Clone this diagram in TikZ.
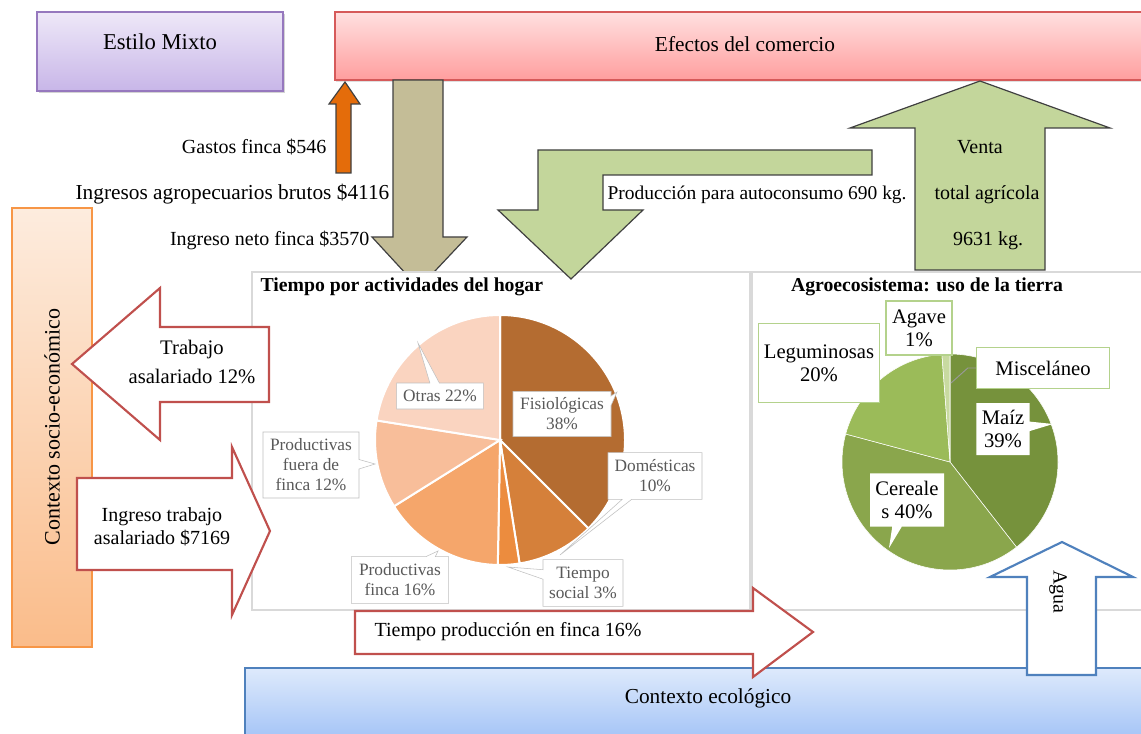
\documentclass[tikz,border=0pt]{standalone}
\usepackage{fontspec}
\setmainfont{Liberation Serif}
\definecolor{MixtoTop}{RGB}{238, 232, 248}
\definecolor{MixtoBottom}{RGB}{200, 182, 232}
\definecolor{MixtoLine}{RGB}{150, 120, 190}
\definecolor{ComercioTop}{RGB}{255, 224, 224}
\definecolor{ComercioBottom}{RGB}{255, 158, 158}
\definecolor{ComercioLine}{RGB}{214, 90, 90}
\definecolor{SocioTop}{RGB}{253, 236, 222}
\definecolor{SocioBottom}{RGB}{250, 188, 138}
\definecolor{SocioLine}{RGB}{247, 150, 70}
\definecolor{EcoTop}{RGB}{222, 234, 252}
\definecolor{EcoBottom}{RGB}{163, 195, 246}
\definecolor{EcoLine}{RGB}{79, 129, 189}
\definecolor{ArrowRed}{RGB}{192, 80, 77}
\definecolor{GastoOrange}{RGB}{228, 108, 10}
\definecolor{IngresoTan}{RGB}{196, 189, 151}
\definecolor{CosechaGreen}{RGB}{195, 214, 155}
\definecolor{ChartGray}{RGB}{217, 217, 217}
\definecolor{LabelGray}{RGB}{191, 191, 191}
\definecolor{TextGray}{RGB}{89, 89, 89}
\definecolor{Fisio}{RGB}{180, 108, 49}
\definecolor{Domes}{RGB}{213, 128, 58}
\definecolor{Social}{RGB}{236, 140, 62}
\definecolor{ProdFinca}{RGB}{245, 166, 107}
\definecolor{ProdFuera}{RGB}{248, 190, 154}
\definecolor{Otras}{RGB}{250, 212, 192}
\definecolor{Maiz}{RGB}{118, 146, 60}
\definecolor{Cereal}{RGB}{138, 166, 76}
\definecolor{Legum}{RGB}{155, 187, 89}
\definecolor{Agave}{RGB}{200, 218, 160}
\definecolor{LabelGreen}{RGB}{180, 210, 140}
\usetikzlibrary{
    shapes.callouts,
    shadows,
    positioning
    }
\tikzset{
    lbl/.style={font=\fontsize{15}{18}\selectfont, inner sep=1pt, align=center},
    pielbl/.style={rectangle callout, draw=LabelGray, fill=white, text=TextGray, font=\fontsize{13}{15}\selectfont, align=center, inner sep=1pt},
    agrolbl/.style={draw=LabelGreen, fill=white, line width=0.8pt, font=\fontsize{15.5}{17}\selectfont, align=center, inner sep=1pt},
    charttitle/.style={font=\bfseries\fontsize{14.8}{17}\selectfont, inner sep=1pt},
    chartbox/.style={draw=ChartGray, fill=white, line width=0.9pt},
    redarrow/.style={draw=ArrowRed, fill=white, line width=1.6pt, line join=miter},
    flowarrow/.style={draw=black!75, line width=0.9pt}
}

\begin{document}
\begin{tikzpicture}[x=0.75pt, y=-0.75pt]
    \useasboundingbox (0,0) rectangle (1141,734);
    \clip (0,0) rectangle (1141,734);

    %Estilo y comercio
    \draw[MixtoLine, line width=0.9pt, top color=MixtoTop, bottom color=MixtoBottom, drop shadow={opacity=0.35, shadow xshift=1.5pt, shadow yshift=-1.5pt}] (37,12) rectangle (283,91);
    \draw[ComercioLine, line width=0.9pt, top color=ComercioTop, bottom color=ComercioBottom, drop shadow={opacity=0.25, shadow xshift=1pt, shadow yshift=-1.5pt}] (335,12) rectangle (1150,80);
    \node (mixto) [lbl, font=\fontsize{17}{20}\selectfont] at (160,42) {Estilo Mixto};
    \node (comercio) [lbl, font=\fontsize{16}{19}\selectfont] at (745,44) {Efectos del comercio};

    %Gastos e ingresos
    \draw[flowarrow, fill=GastoOrange] (336,173) -- (336,104) -- (329,104) -- (345,82) -- (360,104) -- (351,104) -- (351,173) -- cycle;
    \draw[flowarrow, fill=IngresoTan] (393,80) -- (393,237) -- (372,237) -- (419,288) -- (467,237) -- (443,237) -- (443,80) -- cycle;

    %Cuadros de graficas
    \draw[chartbox] (252,272) rectangle (750,610);
    \draw[chartbox] (752,272) rectangle (1150,610);

    %Produccion
    \draw[flowarrow, fill=CosechaGreen] (872,150) -- (538,150) -- (538,210) -- (498,210) -- (571,279) -- (643,210) -- (603,210) -- (603,175) -- (872,175) -- cycle;
    \draw[flowarrow, fill=CosechaGreen] (915,270) -- (915,128) -- (850,128) -- (980,81) -- (1110,128) -- (1045,128) -- (1045,270) -- cycle;

    %Tiempo por actividades del hogar
    \node (titulohogar) [charttitle, anchor=west] at (259,287) {Tiempo por actividades del hogar};
    \begin{scope}[shift={(500,440)}]
        \draw[white, line width=1.5pt, fill=Fisio] (0,0) -- (-90:125) arc (-90:45:125) -- cycle;
        \draw[white, line width=1.5pt, fill=Domes] (0,0) -- (45:125) arc (45:81:125) -- cycle;
        \draw[white, line width=1.5pt, fill=Social] (0,0) -- (81:125) arc (81:91:125) -- cycle;
        \draw[white, line width=1.5pt, fill=ProdFinca] (0,0) -- (91:125) arc (91:148:125) -- cycle;
        \draw[white, line width=1.5pt, fill=ProdFuera] (0,0) -- (148:125) arc (148:189:125) -- cycle;
        \draw[white, line width=1.5pt, fill=Otras] (0,0) -- (189:125) arc (189:270:125) -- cycle;
    \end{scope}
    \node (otras) [pielbl, callout absolute pointer={(418,343)}, minimum width=65pt, minimum height=19.5pt] at (440,396) {Otras 22\%};
    \node (fisio) [pielbl, callout absolute pointer={(617,392)}, minimum width=73.5pt, minimum height=34pt] at (562,414) {Fisiológicas\\38\%};
    \node (domes) [pielbl, callout absolute pointer={(560,555)}, minimum width=70.5pt, minimum height=35pt] at (655,476) {Domésticas\\10\%};
    \node (social) [pielbl, callout absolute pointer={(508,567)}, minimum width=60pt, minimum height=35pt] at (583,583) {Tiempo\\social 3\%};
    \node (prodfinca) [pielbl, callout absolute pointer={(438,551)}, minimum width=73pt, minimum height=35pt] at (400,580) {Productivas\\finca 16\%};
    \node (prodfuera) [pielbl, callout absolute pointer={(375,464)}, minimum width=72pt, minimum height=49.5pt] at (311,465) {Productivas\\fuera de\\finca 12\%};

    %Agroecosistema
    \node (tituloagro) [charttitle] at (927,287) {Agroecosistema: uso de la tierra};
    \begin{scope}[shift={(950,462)}]
        \draw[white, line width=0.4pt, fill=Maiz] (0,0) -- (-90:108) arc (-90:52:108) -- cycle;
        \draw[white, line width=0.4pt, fill=Cereal] (0,0) -- (52:108) arc (52:195:108) -- cycle;
        \draw[white, line width=0.4pt, fill=Legum] (0,0) -- (195:108) arc (195:265.7:108) -- cycle;
        \draw[white, line width=0.4pt, fill=Agave] (0,0) -- (265.7:108) arc (265.7:270:108) -- cycle;
    \end{scope}
    \node (legum) [agrolbl, minimum width=91pt, minimum height=59pt] at (819,363) {Leguminosas\\20\%};
    \node (agave) [agrolbl, minimum width=49.5pt, minimum height=40.5pt] at (919,328) {Agave\\1\%};
    \node (misc) [agrolbl, minimum width=100pt, minimum height=31pt] at (1043,368) {Misceláneo};
    \draw[black!40, line width=0.7pt] (misc.west) -- ++(-8,0) -- (951,383);
    \node (maiz) [rectangle callout, fill=white, font=\fontsize{15.5}{17}\selectfont, align=center, inner sep=1pt, callout absolute pointer={(1053,424)}, minimum width=40pt, minimum height=39pt] at (1003,429) {Maíz\\39\%};
    \node (cereal) [rectangle callout, fill=white, font=\fontsize{15.5}{17}\selectfont, align=center, inner sep=1pt, callout absolute pointer={(889,548)}, minimum width=55.5pt, minimum height=40pt] at (907,500) {Cereale\\s 40\%};

    %Contexto socio-economico
    \draw[SocioLine, line width=0.9pt, top color=SocioTop, bottom color=SocioBottom] (12,208) rectangle (92,647);
    \node (socio) [lbl, rotate=90, font=\fontsize{16.5}{19}\selectfont] at (52,427) {Contexto socio-económico};
    \draw[redarrow] (269,327) -- (160,327) -- (160,288) -- (72,364) -- (160,440) -- (160,402) -- (269,402) -- cycle;
    \node (trabajo) [lbl, font=\fontsize{15.5}{22}\selectfont] at (192,362) {Trabajo\\asalariado 12\%};
    \draw[redarrow] (77,478) -- (232,478) -- (232,447) -- (270,531) -- (232,615) -- (232,570) -- (77,570) -- cycle;
    \node (ingresotrabajo) [lbl, font=\fontsize{15}{17.5}\selectfont] at (162,527) {Ingreso trabajo\\asalariado \$7169};

    %Contexto ecologico
    \draw[EcoLine, line width=0.9pt, top color=EcoTop, bottom color=EcoBottom] (245,668) rectangle (1150,740);
    \node (eco) [lbl, font=\fontsize{16}{19}\selectfont] at (708,698) {Contexto ecológico};
    \draw[redarrow] (355,611) -- (753,611) -- (753,588) -- (813,632) -- (753,677) -- (753,654) -- (355,654) -- cycle;
    \node (tiempofinca) [lbl, anchor=west] at (373,632) {Tiempo producción en finca 16\%};
    \draw[EcoLine, fill=white, line width=1.6pt] (1027,675) -- (1027,577) -- (990,577) -- (1062,542) -- (1133,577) -- (1096,577) -- (1096,675) -- cycle;
    \node (agua) [lbl, rotate=-90] at (1058,592) {Agua};

    %Textos de flujos
    \node (gastos) [lbl, anchor=east] at (328,147) {Gastos finca \$546};
    \node (brutos) [lbl, anchor=east, font=\fontsize{16}{19}\selectfont] at (391,194) {Ingresos agropecuarios brutos \$4116};
    \node (neto) [lbl, anchor=east] at (371,240) {Ingreso neto finca \$3570};
    \node (autoconsumo) [lbl, anchor=west, font=\fontsize{14.6}{17}\selectfont] at (606,195) {Producción para autoconsumo 690 kg.};
    \node (venta) [lbl] at (980,147) {Venta};
    \node (total) [lbl] at (987,195) {total agrícola};
    \node (kilos) [lbl] at (988,241) {9631 kg.};

\end{tikzpicture}
\end{document}
